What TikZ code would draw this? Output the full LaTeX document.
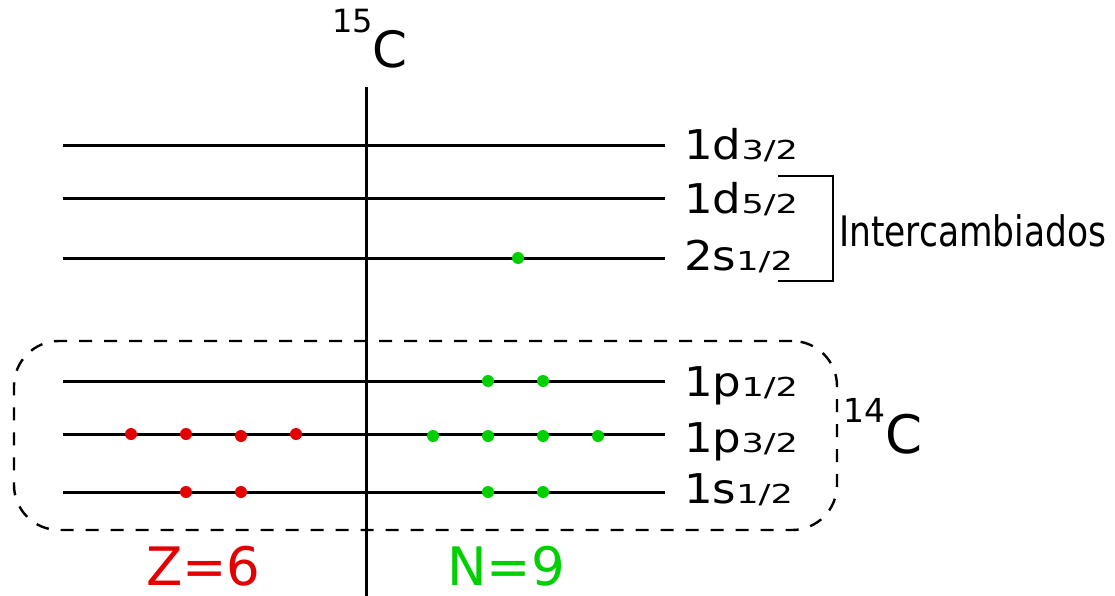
\documentclass[tikz,border=0pt]{standalone}
\usepackage{fontspec}
\setmainfont{DejaVu Sans}
\usepackage{graphicx}
\definecolor{zred}{RGB}{228,0,0}
\definecolor{ngreen}{RGB}{0,208,0}
\newcommand\orbl[2]{\scalebox{1.1}[1]{#1}{\fontsize{30}{30}\selectfont\scalebox{1.17}[0.87]{#2}}}
\begin{document}
\begin{tikzpicture}[x=1pt,y=-1pt,
  lvl/.style={line width=3pt},
  lbl/.style={inner sep=0pt, anchor=base west, font=\fontsize{41}{41}\selectfont},
  txt/.style={inner sep=0pt, anchor=base west},
  rdot/.style={circle, fill=zred, inner sep=0pt, minimum size=12pt},
  gdot/.style={circle, fill=ngreen, inner sep=0pt, minimum size=12pt},
  corebox/.style={draw, line width=2.4pt, dash pattern=on 13pt off 12pt, rounded corners=45pt, inner sep=0pt}]
\useasboundingbox (0,0) rectangle (1115,596);
% axis
\coordinate (axT) at (366,87);
\coordinate (axB) at (366,596);
\draw[lvl] (axT) -- (axB);
% levels
\foreach \n/\y in {dA/146,dB/198,sB/258,pA/381,pB/434,sA/492} {
  \coordinate (\n L) at (63,\y);
  \coordinate (\n R) at (665,\y);
  \draw[lvl] (\n L) -- (\n R);
}
% labels
\node[lbl] (ldA) at (684,160) {\orbl{1d}{3/2}};
\node[lbl] (ldB) at (684,213) {\orbl{1d}{5/2}};
\node[lbl] (lsB) at (684,270) {\orbl{2s}{1/2}};
\node[lbl] (lpA) at (684,396) {\orbl{1p}{1/2}};
\node[lbl] (lpB) at (684,452) {\orbl{1p}{3/2}};
\node[lbl] (lsA) at (684,503) {\orbl{1s}{1/2}};
% bracket
\coordinate (brT) at (778,176);
\coordinate (brB) at (778,281);
\draw[line width=1.5pt] (brT) -- ++(55,0) |- (brB);
\node[txt, font=\fontsize{42}{42}\selectfont] (inter) at (839,246) {\scalebox{0.82}[1]{Intercambiados}};
% nucleus labels
\node[txt] (c15) at (332,68) {\raisebox{35pt}{\fontsize{32}{32}\selectfont 15}\fontsize{50}{50}\selectfont C};
\node[txt] (c14) at (843,453) {\raisebox{31pt}{\fontsize{33}{33}\selectfont 14}\fontsize{53}{53}\selectfont C};
\node[txt, text=zred, font=\fontsize{53}{53}\selectfont] (zlab) at (146,585) {Z=6};
\node[txt, text=ngreen, font=\fontsize{53}{53}\selectfont] (nlab) at (447,585) {N=9};
% dashed core box
\node[corebox, minimum width=823pt, minimum height=189pt] (core) at (425.5,435.5) {};
% protons
\node[rdot] (r1) at (131,434) {};
\node[rdot] (r2) at (186,434) {};
\node[rdot] (r3) at (241,436) {};
\node[rdot] (r4) at (296,434) {};
\node[rdot] (r5) at (186,492) {};
\node[rdot] (r6) at (241,492) {};
% neutrons
\node[gdot] (g1) at (488,381) {};
\node[gdot] (g2) at (543,381) {};
\node[gdot] (g3) at (433,436) {};
\node[gdot] (g4) at (488,436) {};
\node[gdot] (g5) at (543,436) {};
\node[gdot] (g6) at (598,436) {};
\node[gdot] (g7) at (488,492) {};
\node[gdot] (g8) at (543,492) {};
\node[gdot] (g9) at (518,258) {};
\end{tikzpicture}
\end{document}
